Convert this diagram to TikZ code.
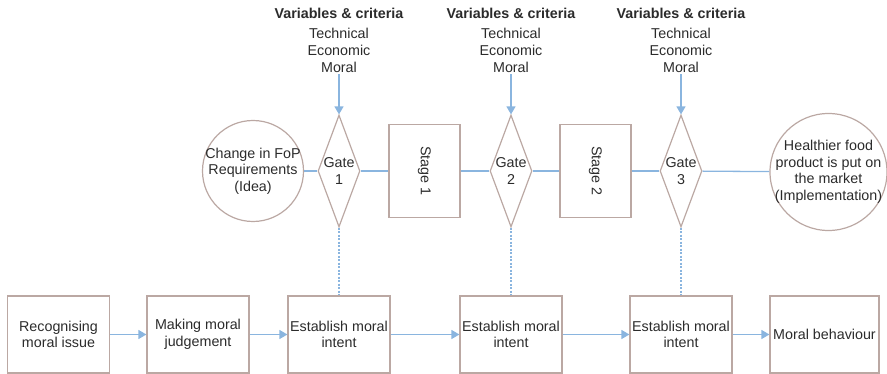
\documentclass[tikz,border=0pt]{standalone}
\usepackage{fontspec}
\setmainfont{Liberation Sans}
\usetikzlibrary{shapes,arrows.meta,positioning}

\begin{document}
\begin{tikzpicture}[x=1pt,y=-1pt,
    every node/.style={text=txt,align=center,font=\fontsize{14.3}{16.5}\selectfont},
    edge/.style={draw=brd,line width=1.2pt},
    box/.style={edge,rectangle,minimum width=102pt,minimum height=77pt,inner sep=1pt},
    stage/.style={edge,rectangle,minimum width=93pt,minimum height=71pt,rotate=-90},
    gate/.style={edge,diamond,minimum width=42pt,minimum height=112pt,inner sep=0pt},
    goal/.style={edge,circle,inner sep=-6pt},
    crit/.style={inner sep=0pt,font=\fontsize{14.3}{17}\selectfont},
    line/.style={draw=blu,line width=1.3pt},
    flow/.style={line,-{Triangle[length=8pt,width=9pt]}},
    tie/.style={draw=blu,line width=1.2pt,dash pattern=on 2pt off 1.5pt}]
    % colours %
    \definecolor{txt}{RGB}{43,43,43}
    \definecolor{brd}{RGB}{187,168,163}
    \definecolor{blu}{RGB}{138,181,223}
    \useasboundingbox (0,0) rectangle (887,374);

    % stage-gate row %
    \node[goal,minimum size=101pt] (idea) at (253,171) {Change in FoP\\Requirements\\(Idea)};
    \node[gate,label={center:Gate\\1}] (g1) at (339,171) {};
    \node[stage] (s1) at (424.5,171) {Stage 1};
    \node[gate,label={center:Gate\\2}] (g2) at (511,171) {};
    \node[stage] (s2) at (595.5,171) {Stage 2};
    \node[gate,label={center:Gate\\3}] (g3) at (681,171) {};
    \node[goal,minimum size=117pt] (impl) at (828.5,172) {Healthier food\\product is put on\\the market\\(Implementation)};
    \foreach \a/\b in {idea/g1,g1/s1,s1/g2,g2/s2,s2/g3,g3/impl}
        \draw[line] (\a) -- (\b);

    % variables and criteria above the gates %
    \foreach \i in {1,2,3} {
        \node[crit,above=42pt of g\i] (crit\i) {\textbf{Variables \& criteria}\\[3pt]Technical\\Economic\\Moral};
        \draw[flow,shorten <=2pt] (crit\i) -- (g\i);
    }

    % moral decision row %
    \node[box] (b1) at (58.5,334.5) {Recognising\\moral issue};
    \node[box] (b2) at (198,334.5) {Making moral\\judgement};
    \node[box] (b3) at (339,334.5) {Establish moral\\intent};
    \node[box] (b4) at (511,334.5) {Establish moral\\intent};
    \node[box] (b5) at (681,334.5) {Establish moral\\intent};
    \node[box,minimum width=109pt] (b6) at (824.5,334.5) {Moral behaviour};
    \foreach \a/\b in {b1/b2,b2/b3,b3/b4,b4/b5,b5/b6}
        \draw[flow] (\a) -- (\b);
    \foreach \i/\b in {1/b3,2/b4,3/b5}
        \draw[tie] (g\i) -- (\b);
\end{tikzpicture}
\end{document}
